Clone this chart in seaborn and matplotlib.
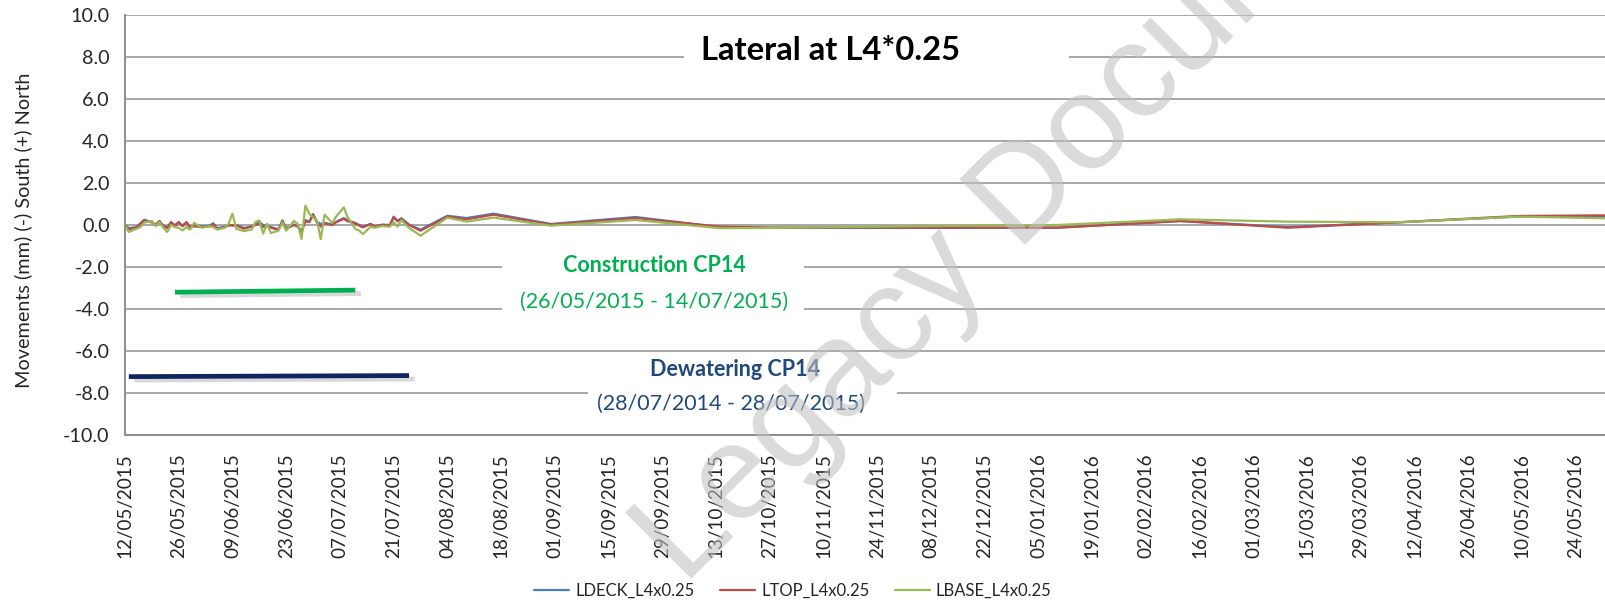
import numpy as np
import pandas as pd
import matplotlib
matplotlib.use("Agg")
import matplotlib.pyplot as plt
import matplotlib.dates as mdates
from matplotlib.patches import Rectangle
from matplotlib.lines import Line2D
import matplotlib.patheffects as pe
import seaborn as sns

# ---------------- data ----------------
dates = [
    "2015-05-12", "2015-05-13", "2015-05-15", "2015-05-16", "2015-05-17", "2015-05-19",
    "2015-05-20", "2015-05-21", "2015-05-22", "2015-05-23", "2015-05-24", "2015-05-25",
    "2015-05-26", "2015-05-27", "2015-05-28", "2015-05-29", "2015-05-30", "2015-06-01",
    "2015-06-03", "2015-06-04", "2015-06-05", "2015-06-07", "2015-06-08", "2015-06-09",
    "2015-06-10", "2015-06-12", "2015-06-14", "2015-06-15", "2015-06-16", "2015-06-17",
    "2015-06-18", "2015-06-19", "2015-06-21", "2015-06-22", "2015-06-23", "2015-06-25",
    "2015-06-26", "2015-06-27", "2015-06-28", "2015-06-29", "2015-06-30", "2015-07-01",
    "2015-07-02", "2015-07-03", "2015-07-05", "2015-07-06", "2015-07-08", "2015-07-09",
    "2015-07-11", "2015-07-12", "2015-07-13", "2015-07-15", "2015-07-16", "2015-07-18",
    "2015-07-20", "2015-07-21", "2015-07-22", "2015-07-23", "2015-07-25", "2015-07-28",
    "2015-08-04", "2015-08-09", "2015-08-16", "2015-08-31", "2015-09-22", "2015-10-14",
    "2015-10-27", "2015-12-08", "2016-01-10", "2016-02-11", "2016-03-10", "2016-04-08",
    "2016-05-09", "2016-06-01",
]
ldeck = [
    0.00, -0.15, -0.10, 0.08, 0.25, 0.12,
    0.02, 0.17, -0.04, -0.12, 0.12, 0.00,
    0.12, -0.04, 0.12, -0.10, 0.00, -0.06,
    -0.04, 0.08, -0.15, -0.08, 0.00, -0.02,
    0.00, -0.14, -0.08, 0.02, 0.14, 0.00,
    -0.04, -0.10, -0.20, 0.22, -0.15, 0.02,
    -0.06, -0.30, 0.24, 0.15, 0.52, 0.15,
    0.05, 0.10, 0.02, 0.15, 0.33, 0.22,
    0.10, 0.00, -0.08, 0.05, -0.06, 0.02,
    0.00, 0.40, 0.20, 0.32, 0.02, -0.22,
    0.44, 0.33, 0.54, 0.05, 0.38, -0.10,
    -0.14, -0.14, -0.12, 0.19, -0.10, 0.13,
    0.40, 0.40,
]
ltop = [
    0.00, -0.20, -0.13, 0.06, 0.22, 0.14,
    0.00, 0.19, -0.06, -0.14, 0.14, -0.06,
    0.14, -0.06, 0.14, -0.13, -0.06, -0.10,
    -0.06, 0.06, -0.18, -0.10, -0.02, -0.02,
    -0.02, -0.18, -0.06, 0.00, 0.05, -0.10,
    -0.06, -0.13, -0.24, 0.19, -0.19, 0.00,
    -0.08, -0.35, 0.18, 0.13, 0.49, 0.13,
    -0.08, 0.08, 0.00, 0.13, 0.29, 0.18,
    0.08, -0.03, -0.11, 0.05, -0.08, 0.00,
    -0.02, 0.37, 0.18, 0.29, 0.00, -0.27,
    0.40, 0.27, 0.49, 0.02, 0.33, -0.08,
    -0.12, -0.12, -0.13, 0.19, -0.13, 0.13,
    0.43, 0.46,
]
lbase = [
    0.00, -0.33, -0.18, -0.10, 0.11, 0.19,
    -0.06, 0.14, -0.13, -0.33, 0.00, -0.10,
    -0.13, -0.26, -0.10, -0.22, 0.10, -0.13,
    -0.06, -0.10, -0.22, -0.13, 0.06, 0.54,
    -0.18, -0.29, -0.22, 0.14, 0.22, -0.41,
    0.06, -0.38, -0.27, 0.13, -0.27, 0.19,
    0.05, -0.67, 0.92, 0.53, 0.37, 0.22,
    -0.67, 0.49, 0.10, 0.40, 0.84, 0.37,
    -0.19, -0.27, -0.43, -0.08, -0.13, -0.05,
    -0.08, 0.13, -0.08, 0.24, -0.14, -0.51,
    0.35, 0.16, 0.35, -0.03, 0.24, -0.15,
    -0.14, -0.05, 0.00, 0.27, 0.16, 0.13,
    0.40, 0.32,
]
series_names = ["LDECK_L4x0.25", "LTOP_L4x0.25", "LBASE_L4x0.25"]
series_colors = ["#4A7EBB", "#BE4B48", "#98B954"]

tick_dates = pd.date_range("2015-05-12", "2016-05-24", freq="14D")
y_ticks = [-10, -8, -6, -4, -2, 0, 2, 4, 6, 8, 10]

construction_dates = ["2015-05-25", "2015-07-11"]
construction_y = [-3.2, -3.1]
dewatering_dates = ["2015-05-13", "2015-07-25"]
dewatering_y = [-7.22, -7.17]

title = "Lateral at L4*0.25"
ylabel = "Movements (mm) (-) South (+) North"

# ---------------- plot ----------------
sns.set_style("white")
plt.rcParams["font.family"] = ["Lato", "DejaVu Sans"]

W, H = 1605, 604
fig = plt.figure(figsize=(W / 100, H / 100), dpi=100)
ax_l, ax_r, ax_t, ax_b = 125, 1605, 15, 435
ax = fig.add_axes([ax_l / W, 1 - ax_b / H, (ax_r - ax_l) / W, (ax_b - ax_t) / H])

df = pd.DataFrame({
    "date": pd.to_datetime(dates * 3),
    "value": ldeck + ltop + lbase,
    "series": [series_names[0]] * len(dates) + [series_names[1]] * len(dates) + [series_names[2]] * len(dates),
})
sns.lineplot(data=df, x="date", y="value", hue="series", hue_order=series_names,
             palette=series_colors, estimator=None, sort=False, linewidth=1.6,
             legend=False, ax=ax, zorder=2)

# period bars
shadow = [pe.SimpleLineShadow(offset=(4, -2.5), shadow_color="#808080", alpha=0.3), pe.Normal()]
ax.plot(pd.to_datetime(construction_dates), construction_y, color="#00B050", lw=3.4,
        solid_capstyle="butt", path_effects=shadow, zorder=2)
ax.plot(pd.to_datetime(dewatering_dates), dewatering_y, color="#0F2461", lw=3.4,
        solid_capstyle="butt", path_effects=shadow, zorder=2)

x0 = pd.Timestamp("2015-05-12")
ax.set_xlim(x0, x0 + pd.Timedelta(days=385.6))
ax.set_ylim(-10, 10)
ax.set_xticks(tick_dates)
ax.xaxis.set_major_formatter(mdates.DateFormatter("%d/%m/%Y"))
ax.set_yticks(y_ticks)
ax.yaxis.set_major_formatter(matplotlib.ticker.FormatStrFormatter("%.1f"))
ax.set_xlabel("")
ax.set_ylabel(ylabel, fontsize=14.3)
ax.yaxis.set_label_coords(-0.0625, 0.488)
for lab in ax.get_xticklabels():
    lab.set_rotation(90)
ax.tick_params(axis="x", direction="out", length=5, width=1.2, color="#868686",
               labelsize=13.6, pad=8)
ax.tick_params(axis="y", direction="out", length=5, width=1.2, color="#868686",
               labelsize=14.2, pad=6)

ax.set_axisbelow(True)
ax.grid(axis="y", color="#a0a0a0", lw=1.3)
ax.grid(axis="x", visible=False)
for s in ["top", "right"]:
    ax.spines[s].set_visible(False)
for s in ["left", "bottom"]:
    ax.spines[s].set_color("#868686")
    ax.spines[s].set_linewidth(1.3)


def px_box(x1, x2, y1, y2):
    """white background box given in figure pixels, converted to axes fraction"""
    aw, ah = ax_r - ax_l, ax_b - ax_t
    r = Rectangle(((x1 - ax_l) / aw, (ax_b - y2) / ah), (x2 - x1) / aw, (y2 - y1) / ah,
                  transform=ax.transAxes, facecolor="white", edgecolor="none", zorder=1.5)
    ax.add_patch(r)


def px_text(x, y, s, **kw):
    aw, ah = ax_r - ax_l, ax_b - ax_t
    ax.text((x - ax_l) / aw, (ax_b - y) / ah, s, transform=ax.transAxes,
            ha="center", va="center", zorder=3, **kw)


px_box(684, 1069, 30, 76)
px_text(831, 50, title, fontsize=23.6, fontweight="bold", color="black")

px_box(502, 804, 248, 322)
px_text(654, 265, "Construction CP14", fontsize=15.5, fontweight="bold", color="#00B050")
px_text(654, 302, "(26/05/2015 - 14/07/2015)", fontsize=15.5, color="#00B050")

px_box(588, 897, 357, 422)
px_text(735, 369, "Dewatering CP14", fontsize=15.5, fontweight="bold", color="#1F497D")
px_text(731, 404, "(28/07/2014 - 28/07/2015)", fontsize=15.5, color="#1F497D")

handles = [Line2D([], [], color=c, lw=1.6) for c in series_colors]
fig.legend(handles, series_names, loc="center", bbox_to_anchor=(793 / W, 1 - 591 / H),
           ncol=3, frameon=False, fontsize=12, handlelength=2.1, handletextpad=0.35,
           columnspacing=1.55)

# watermark
fig.text(684 / W, 1 - 586 / H, "Legacy Document", rotation=45, rotation_mode="anchor",
         ha="left", va="baseline", fontsize=97, color="#c0c0c0", alpha=0.58,
         family="Liberation Sans", zorder=10)

fig.savefig("out.png", dpi=100)
